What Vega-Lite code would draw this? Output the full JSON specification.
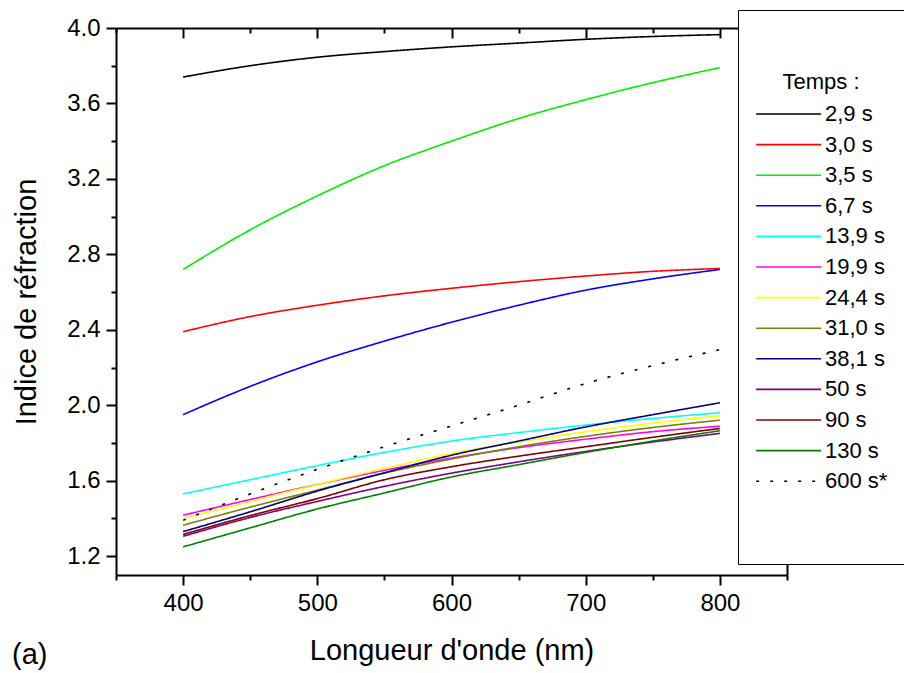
{
  "$schema": "https://vega.github.io/schema/vega-lite/v6.json",
  "width": 671,
  "height": 547,
  "autosize": {"type": "none"},
  "padding": {"left": 116, "top": 28, "right": 117, "bottom": 98},
  "background": "white",
  "config": {
    "view": {"stroke": null},
    "font": "Liberation Sans",
    "axis": {
      "grid": false,
      "domainColor": "black",
      "domainWidth": 2,
      "tickColor": "black",
      "tickWidth": 2,
      "labelColor": "black",
      "labelFont": "Liberation Sans",
      "labelFontSize": 24,
      "titleColor": "black",
      "titleFont": "Liberation Sans",
      "titleFontSize": 29,
      "titleFontWeight": "normal",
      "zindex": 0
    }
  },
  "title": {
    "text": "(a)",
    "orient": "bottom",
    "anchor": "start",
    "frame": "group",
    "dx": -104,
    "dy": -28,
    "fontSize": 29,
    "fontWeight": "normal",
    "color": "black",
    "font": "Liberation Sans"
  },
  "data": {
    "values": [
      {"t": "2,9 s", "nm": 400, "n": 3.74}, {"t": "2,9 s", "nm": 450, "n": 3.8}, {"t": "2,9 s", "nm": 500, "n": 3.845}, {"t": "2,9 s", "nm": 550, "n": 3.875}, {"t": "2,9 s", "nm": 600, "n": 3.9}, {"t": "2,9 s", "nm": 650, "n": 3.92}, {"t": "2,9 s", "nm": 700, "n": 3.94}, {"t": "2,9 s", "nm": 750, "n": 3.955}, {"t": "2,9 s", "nm": 800, "n": 3.965},
      {"t": "3,0 s", "nm": 400, "n": 2.39}, {"t": "3,0 s", "nm": 450, "n": 2.47}, {"t": "3,0 s", "nm": 500, "n": 2.53}, {"t": "3,0 s", "nm": 550, "n": 2.58}, {"t": "3,0 s", "nm": 600, "n": 2.62}, {"t": "3,0 s", "nm": 650, "n": 2.655}, {"t": "3,0 s", "nm": 700, "n": 2.685}, {"t": "3,0 s", "nm": 750, "n": 2.71}, {"t": "3,0 s", "nm": 800, "n": 2.725},
      {"t": "3,5 s", "nm": 400, "n": 2.72}, {"t": "3,5 s", "nm": 450, "n": 2.93}, {"t": "3,5 s", "nm": 500, "n": 3.11}, {"t": "3,5 s", "nm": 550, "n": 3.27}, {"t": "3,5 s", "nm": 600, "n": 3.4}, {"t": "3,5 s", "nm": 650, "n": 3.52}, {"t": "3,5 s", "nm": 700, "n": 3.62}, {"t": "3,5 s", "nm": 750, "n": 3.71}, {"t": "3,5 s", "nm": 800, "n": 3.79},
      {"t": "6,7 s", "nm": 400, "n": 1.95}, {"t": "6,7 s", "nm": 450, "n": 2.1}, {"t": "6,7 s", "nm": 500, "n": 2.23}, {"t": "6,7 s", "nm": 550, "n": 2.34}, {"t": "6,7 s", "nm": 600, "n": 2.44}, {"t": "6,7 s", "nm": 650, "n": 2.53}, {"t": "6,7 s", "nm": 700, "n": 2.61}, {"t": "6,7 s", "nm": 750, "n": 2.67}, {"t": "6,7 s", "nm": 800, "n": 2.72},
      {"t": "13,9 s", "nm": 400, "n": 1.53}, {"t": "13,9 s", "nm": 450, "n": 1.605}, {"t": "13,9 s", "nm": 500, "n": 1.68}, {"t": "13,9 s", "nm": 550, "n": 1.75}, {"t": "13,9 s", "nm": 600, "n": 1.81}, {"t": "13,9 s", "nm": 650, "n": 1.855}, {"t": "13,9 s", "nm": 700, "n": 1.895}, {"t": "13,9 s", "nm": 750, "n": 1.93}, {"t": "13,9 s", "nm": 800, "n": 1.96},
      {"t": "19,9 s", "nm": 400, "n": 1.417}, {"t": "19,9 s", "nm": 450, "n": 1.5}, {"t": "19,9 s", "nm": 500, "n": 1.58}, {"t": "19,9 s", "nm": 550, "n": 1.655}, {"t": "19,9 s", "nm": 600, "n": 1.72}, {"t": "19,9 s", "nm": 650, "n": 1.775}, {"t": "19,9 s", "nm": 700, "n": 1.82}, {"t": "19,9 s", "nm": 750, "n": 1.86}, {"t": "19,9 s", "nm": 800, "n": 1.889},
      {"t": "24,4 s", "nm": 400, "n": 1.4}, {"t": "24,4 s", "nm": 450, "n": 1.49}, {"t": "24,4 s", "nm": 500, "n": 1.58}, {"t": "24,4 s", "nm": 550, "n": 1.665}, {"t": "24,4 s", "nm": 600, "n": 1.745}, {"t": "24,4 s", "nm": 650, "n": 1.805}, {"t": "24,4 s", "nm": 700, "n": 1.86}, {"t": "24,4 s", "nm": 750, "n": 1.905}, {"t": "24,4 s", "nm": 800, "n": 1.944},
      {"t": "31,0 s", "nm": 400, "n": 1.364}, {"t": "31,0 s", "nm": 450, "n": 1.46}, {"t": "31,0 s", "nm": 500, "n": 1.55}, {"t": "31,0 s", "nm": 550, "n": 1.64}, {"t": "31,0 s", "nm": 600, "n": 1.715}, {"t": "31,0 s", "nm": 650, "n": 1.78}, {"t": "31,0 s", "nm": 700, "n": 1.835}, {"t": "31,0 s", "nm": 750, "n": 1.882}, {"t": "31,0 s", "nm": 800, "n": 1.921},
      {"t": "38,1 s", "nm": 400, "n": 1.33}, {"t": "38,1 s", "nm": 450, "n": 1.435}, {"t": "38,1 s", "nm": 500, "n": 1.545}, {"t": "38,1 s", "nm": 550, "n": 1.642}, {"t": "38,1 s", "nm": 600, "n": 1.735}, {"t": "38,1 s", "nm": 650, "n": 1.81}, {"t": "38,1 s", "nm": 700, "n": 1.885}, {"t": "38,1 s", "nm": 750, "n": 1.95}, {"t": "38,1 s", "nm": 800, "n": 2.013},
      {"t": "50 s", "nm": 400, "n": 1.305}, {"t": "50 s", "nm": 450, "n": 1.405}, {"t": "50 s", "nm": 500, "n": 1.49}, {"t": "50 s", "nm": 550, "n": 1.57}, {"t": "50 s", "nm": 600, "n": 1.64}, {"t": "50 s", "nm": 650, "n": 1.7}, {"t": "50 s", "nm": 700, "n": 1.755}, {"t": "50 s", "nm": 750, "n": 1.805}, {"t": "50 s", "nm": 800, "n": 1.851},
      {"t": "90 s", "nm": 400, "n": 1.315}, {"t": "90 s", "nm": 450, "n": 1.415}, {"t": "90 s", "nm": 500, "n": 1.505}, {"t": "90 s", "nm": 550, "n": 1.605}, {"t": "90 s", "nm": 600, "n": 1.674}, {"t": "90 s", "nm": 650, "n": 1.73}, {"t": "90 s", "nm": 700, "n": 1.78}, {"t": "90 s", "nm": 750, "n": 1.83}, {"t": "90 s", "nm": 800, "n": 1.877},
      {"t": "130 s", "nm": 400, "n": 1.249}, {"t": "130 s", "nm": 450, "n": 1.35}, {"t": "130 s", "nm": 500, "n": 1.45}, {"t": "130 s", "nm": 550, "n": 1.535}, {"t": "130 s", "nm": 600, "n": 1.62}, {"t": "130 s", "nm": 650, "n": 1.685}, {"t": "130 s", "nm": 700, "n": 1.75}, {"t": "130 s", "nm": 750, "n": 1.81}, {"t": "130 s", "nm": 800, "n": 1.865},
      {"t": "600 s*", "nm": 400, "n": 1.39}, {"t": "600 s*", "nm": 450, "n": 1.53}, {"t": "600 s*", "nm": 500, "n": 1.66}, {"t": "600 s*", "nm": 550, "n": 1.78}, {"t": "600 s*", "nm": 600, "n": 1.89}, {"t": "600 s*", "nm": 650, "n": 2.0}, {"t": "600 s*", "nm": 700, "n": 2.115}, {"t": "600 s*", "nm": 750, "n": 2.21}, {"t": "600 s*", "nm": 800, "n": 2.295}
    ]
  },
  "layer": [
    {
      "transform": [{"filter": "datum.t !== '600 s*'"}],
      "mark": {"type": "line", "interpolate": "monotone", "clip": true},
      "encoding": {
        "x": {
          "field": "nm", "type": "quantitative",
          "scale": {"domain": [350, 850], "nice": false, "zero": false},
          "axis": {
            "orient": "bottom",
            "values": [350, 400, 450, 500, 550, 600, 650, 700, 750, 800, 850],
            "format": "d",
            "labelExpr": "datum.value % 100 === 0 ? datum.label : ''",
            "tickSize": {"condition": {"test": "datum.value % 100 === 0", "value": 10}, "value": 5},
            "labelPadding": 6,
            "title": "Longueur d'onde (nm)",
            "titlePadding": 21
          }
        },
        "y": {
          "field": "n", "type": "quantitative",
          "scale": {"domain": [1.1, 4.0], "nice": false, "zero": false},
          "axis": {
            "orient": "left",
            "values": [1.2, 1.4, 1.6, 1.8, 2.0, 2.2, 2.4, 2.6, 2.8, 3.0, 3.2, 3.4, 3.6, 3.8, 4.0],
            "format": ".1f",
            "labelExpr": "round(datum.value * 10) % 4 === 0 ? datum.label : ''",
            "tickSize": {"condition": {"test": "round(datum.value * 10) % 4 === 0", "value": 10}, "value": 5},
            "labelPadding": 6,
            "title": "Indice de réfraction",
            "titlePadding": 25
          }
        },
        "color": {
          "field": "t", "type": "nominal",
          "scale": {
            "domain": ["2,9 s", "3,0 s", "3,5 s", "6,7 s", "13,9 s", "19,9 s", "24,4 s", "31,0 s", "38,1 s", "50 s", "90 s", "130 s", "600 s*", " "],
            "range": ["#000000", "#ff0000", "#00ee00", "#0000ff", "#00ffff", "#ff00ff", "#ffff00", "#808000", "#000080", "#800080", "#800000", "#008000", "#000000", "rgba(0,0,0,0)"]
          },
          "legend": {
            "orient": "none",
            "legendX": 622,
            "legendY": -18,
            "title": ["", "Temps :"],
            "titleFontSize": 22,
            "titleFontWeight": "normal",
            "titleColor": "black",
            "titleFont": "Liberation Sans",
            "titleAnchor": "middle",
            "titleLineHeight": 45,
            "titlePadding": 8,
            "labelFontSize": 22,
            "labelFont": "Liberation Sans",
            "labelColor": "black",
            "labelOffset": 46,
            "labelLimit": 0,
            "labelExpr": "datum.label === ' ' ? [' ', ' '] : datum.label",
            "symbolType": "M-1,0H5",
            "symbolSize": 469,
            "rowPadding": 7.6,
            "padding": 17,
            "fillColor": "white",
            "strokeColor": "black",
            "zindex": 1
          }
        },
        "strokeDash": {
          "field": "t", "type": "nominal",
          "scale": {
            "domain": ["2,9 s", "3,0 s", "3,5 s", "6,7 s", "13,9 s", "19,9 s", "24,4 s", "31,0 s", "38,1 s", "50 s", "90 s", "130 s", "600 s*", " "],
            "range": [[1, 0], [1, 0], [1, 0], [1, 0], [1, 0], [1, 0], [1, 0], [1, 0], [1, 0], [1, 0], [1, 0], [1, 0], [3, 11], [1, 0]]
          }
        },
        "strokeWidth": {
          "field": "t", "type": "nominal",
          "scale": {
            "domain": ["2,9 s", "3,0 s", "3,5 s", "6,7 s", "13,9 s", "19,9 s", "24,4 s", "31,0 s", "38,1 s", "50 s", "90 s", "130 s", "600 s*", " "],
            "range": [1.6, 1.6, 1.6, 1.6, 1.6, 1.6, 1.6, 1.6, 1.6, 1.6, 1.6, 1.6, 3.2, 1.6]
          }
        }
      }
    },
    {
      "transform": [{"filter": "datum.t === '600 s*'"}],
      "mark": {"type": "line", "interpolate": "monotone", "clip": true},
      "encoding": {
        "x": {
          "field": "nm", "type": "quantitative",
          "axis": {
            "orient": "top",
            "values": [350, 400, 450, 500, 550, 600, 650, 700, 750, 800, 850],
            "labels": false,
            "tickSize": {"condition": {"test": "datum.value % 100 === 0", "value": -10}, "value": -5},
            "title": null
          }
        },
        "y": {
          "field": "n", "type": "quantitative",
          "axis": {"orient": "right", "labels": false, "ticks": false, "title": null}
        },
        "color": {"field": "t", "type": "nominal"},
        "strokeDash": {"field": "t", "type": "nominal"},
        "strokeWidth": {"field": "t", "type": "nominal"}
      }
    }
  ],
  "resolve": {"axis": {"x": "independent", "y": "independent"}}
}
